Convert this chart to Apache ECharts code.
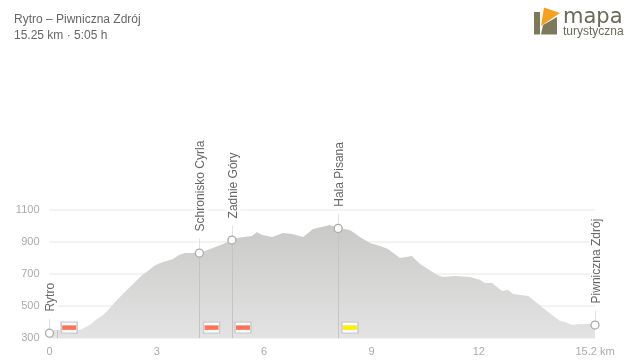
<!DOCTYPE html>
<html><head><meta charset="utf-8">
<style>html,body{margin:0;padding:0;background:#fff}#c{width:635px;height:362px}</style>
<script src="https://cdn.jsdelivr.net/npm/echarts@6/dist/echarts.min.js"></script>
</head><body><div id="c"></div>
<script>
const distKm = [0,0.22,0.85,1.13,1.33,1.5,1.69,1.91,2.25,2.59,2.75,2.92,3.09,3.45,3.62,3.79,4.19,4.49,4.85,5.1,5.24,5.66,5.8,5.94,6.22,6.53,6.78,7.09,7.23,7.37,7.84,8.07,8.4,8.68,8.96,9.24,9.46,9.8,10.13,10.36,10.58,10.84,11,11.34,11.76,12.04,12.17,12.37,12.65,12.82,12.96,13.38,13.63,13.8,13.94,14.27,14.41,14.61,14.83,15.25];
const elevation = [345,350,350,381,419,444,488,544,619,694,719,750,769,794,819,831,831,856,888,912,925,938,962,944,931,956,950,931,956,981,1006,988,975,931,894,875,856,800,812,762,731,694,681,688,681,662,644,644,594,600,575,562,519,488,462,406,400,381,388,388];
const waypointNames = ['Rytro','Schronisko Cyrla','Zadnie Góry','Hala Pisana','Piwniczna Zdrój'];
const waypointKm = [0,4.19,5.1,8.07,15.25];
const waypointElev = [330,831,912,985,381];
const redFlagKm = [0.55,4.53,5.41];
const yellowFlagKm = [8.4];
const xTicks = [0,3,6,9,12,15.25];
const yTicks = [300,500,700,900,1100];
const TITLE = 'Rytro – Piwniczna Zdrój';
const SUBTITLE = '15.25 km · 5:05 h';
const FONT = '"Liberation Sans", Arial, sans-serif';
const FLAG_Y = 365;

const chart = echarts.init(document.getElementById('c'), null, {renderer:'canvas'});
const lowLines = waypointKm.slice(1,4).map((k,i)=>[{coord:[k,300]},{coord:[k,waypointElev[i+1]]}]);
lowLines.push([{coord:[0.22,300]},{coord:[0.22,350]}]);
const highLines = waypointKm.map((k,i)=>[{coord:[k,waypointElev[i]]},{coord:[k,waypointElev[i]+90]}]);
chart.setOption({
  animation:false,
  backgroundColor:'#fff',
  title:[
    {text:TITLE,left:14,top:14,padding:0,textStyle:{fontFamily:FONT,fontSize:12,fontWeight:'normal',color:'#666'}},
    {text:SUBTITLE,left:14,top:30,padding:0,textStyle:{fontFamily:FONT,fontSize:12,fontWeight:'normal',color:'#666'}}
  ],
  grid:{left:49.5,right:40,top:210,height:128},
  xAxis:{type:'value',min:0,max:15.25,
    axisLine:{show:false},axisTick:{show:false},splitLine:{show:false},
    axisLabel:{customValues:xTicks,margin:8,fontFamily:FONT,fontSize:11,color:'#aaa',hideOverlap:false,
      formatter:v=>v===15.25?'15.2 km':String(v)}},
  yAxis:{type:'value',min:300,max:1100,interval:200,
    axisLine:{show:false},axisTick:{show:false},
    splitLine:{lineStyle:{color:'#f3f3f3',width:2}},
    axisLabel:{margin:10,padding:[2,0,0,0],fontFamily:FONT,fontSize:11,color:'#aaa',formatter:v=>String(v)}},
  series:[
    {type:'line',name:'profile',data:distKm.map((k,i)=>[k,elevation[i]]),symbol:'none',silent:true,z:2,
      lineStyle:{width:0},
      areaStyle:{opacity:1,color:new echarts.graphic.LinearGradient(0,0,0,1,[{offset:0,color:'#c9c9c7'},{offset:1,color:'#e3e3e3'}])},
      markLine:{silent:true,symbol:'none',label:{show:false},animation:false,z:3,
        lineStyle:{color:'#c4c4c4',width:1,type:'solid'},data:lowLines}},
    {type:'line',name:'stems',data:[],silent:true,z:3,
      markLine:{silent:true,symbol:'none',label:{show:false},animation:false,
        lineStyle:{color:'#e2e2e2',width:1,type:'solid'},data:highLines}},
    {type:'scatter',name:'flagBox',data:redFlagKm.concat(yellowFlagKm).map(k=>[k,FLAG_Y]),symbol:'rect',symbolSize:[16,11],silent:true,z:4,
      itemStyle:{color:'#fff',borderColor:'#ccc',borderWidth:1.3,opacity:1}},
    {type:'scatter',name:'redFlag',data:redFlagKm.map(k=>[k,FLAG_Y]),symbol:'rect',symbolSize:[14,4.5],silent:true,z:5,
      itemStyle:{color:'#ff7255',opacity:1}},
    {type:'scatter',name:'yellowFlag',data:yellowFlagKm.map(k=>[k,FLAG_Y]),symbol:'rect',symbolSize:[14,4.5],silent:true,z:5,
      itemStyle:{color:'#ffee00',opacity:1}},
    {type:'scatter',name:'waypoints',data:waypointKm.map((k,i)=>({value:[k,waypointElev[i]],name:waypointNames[i]})),
      symbol:'circle',symbolSize:8,silent:true,z:6,
      itemStyle:{color:'#fff',borderColor:'#aaa',borderWidth:1.3,opacity:1},
      label:{show:true,position:'top',distance:16,offset:[0,1.5],rotate:90,align:'left',verticalAlign:'middle',formatter:'{b}',
        fontFamily:FONT,fontSize:12,color:'#666',backgroundColor:'#fff',padding:[1,1,1,1]}}
  ],
  graphic:[
    {type:'polygon',shape:{points:[[534,12],[540,12],[540,34.5],[534,34.5]]},style:{fill:'#7d7a5c'}},
    {type:'polygon',shape:{points:[[541,34.5],[543,25],[557,17],[557,34.5]]},style:{fill:'#7d7a5c'}},
    {type:'polygon',shape:{points:[[544,7.5],[560,13],[541,26]]},style:{fill:'#f7a01c'}},
    {type:'text',left:563,top:7,style:{text:'mapa',font:'21px "DejaVu Sans"',fill:'#6b6a58'}},
    {type:'text',left:563,top:26,style:{text:'turystyczna',font:'12px '+FONT,fill:'#6b6a58'}}
  ]
});
</script></body></html>
